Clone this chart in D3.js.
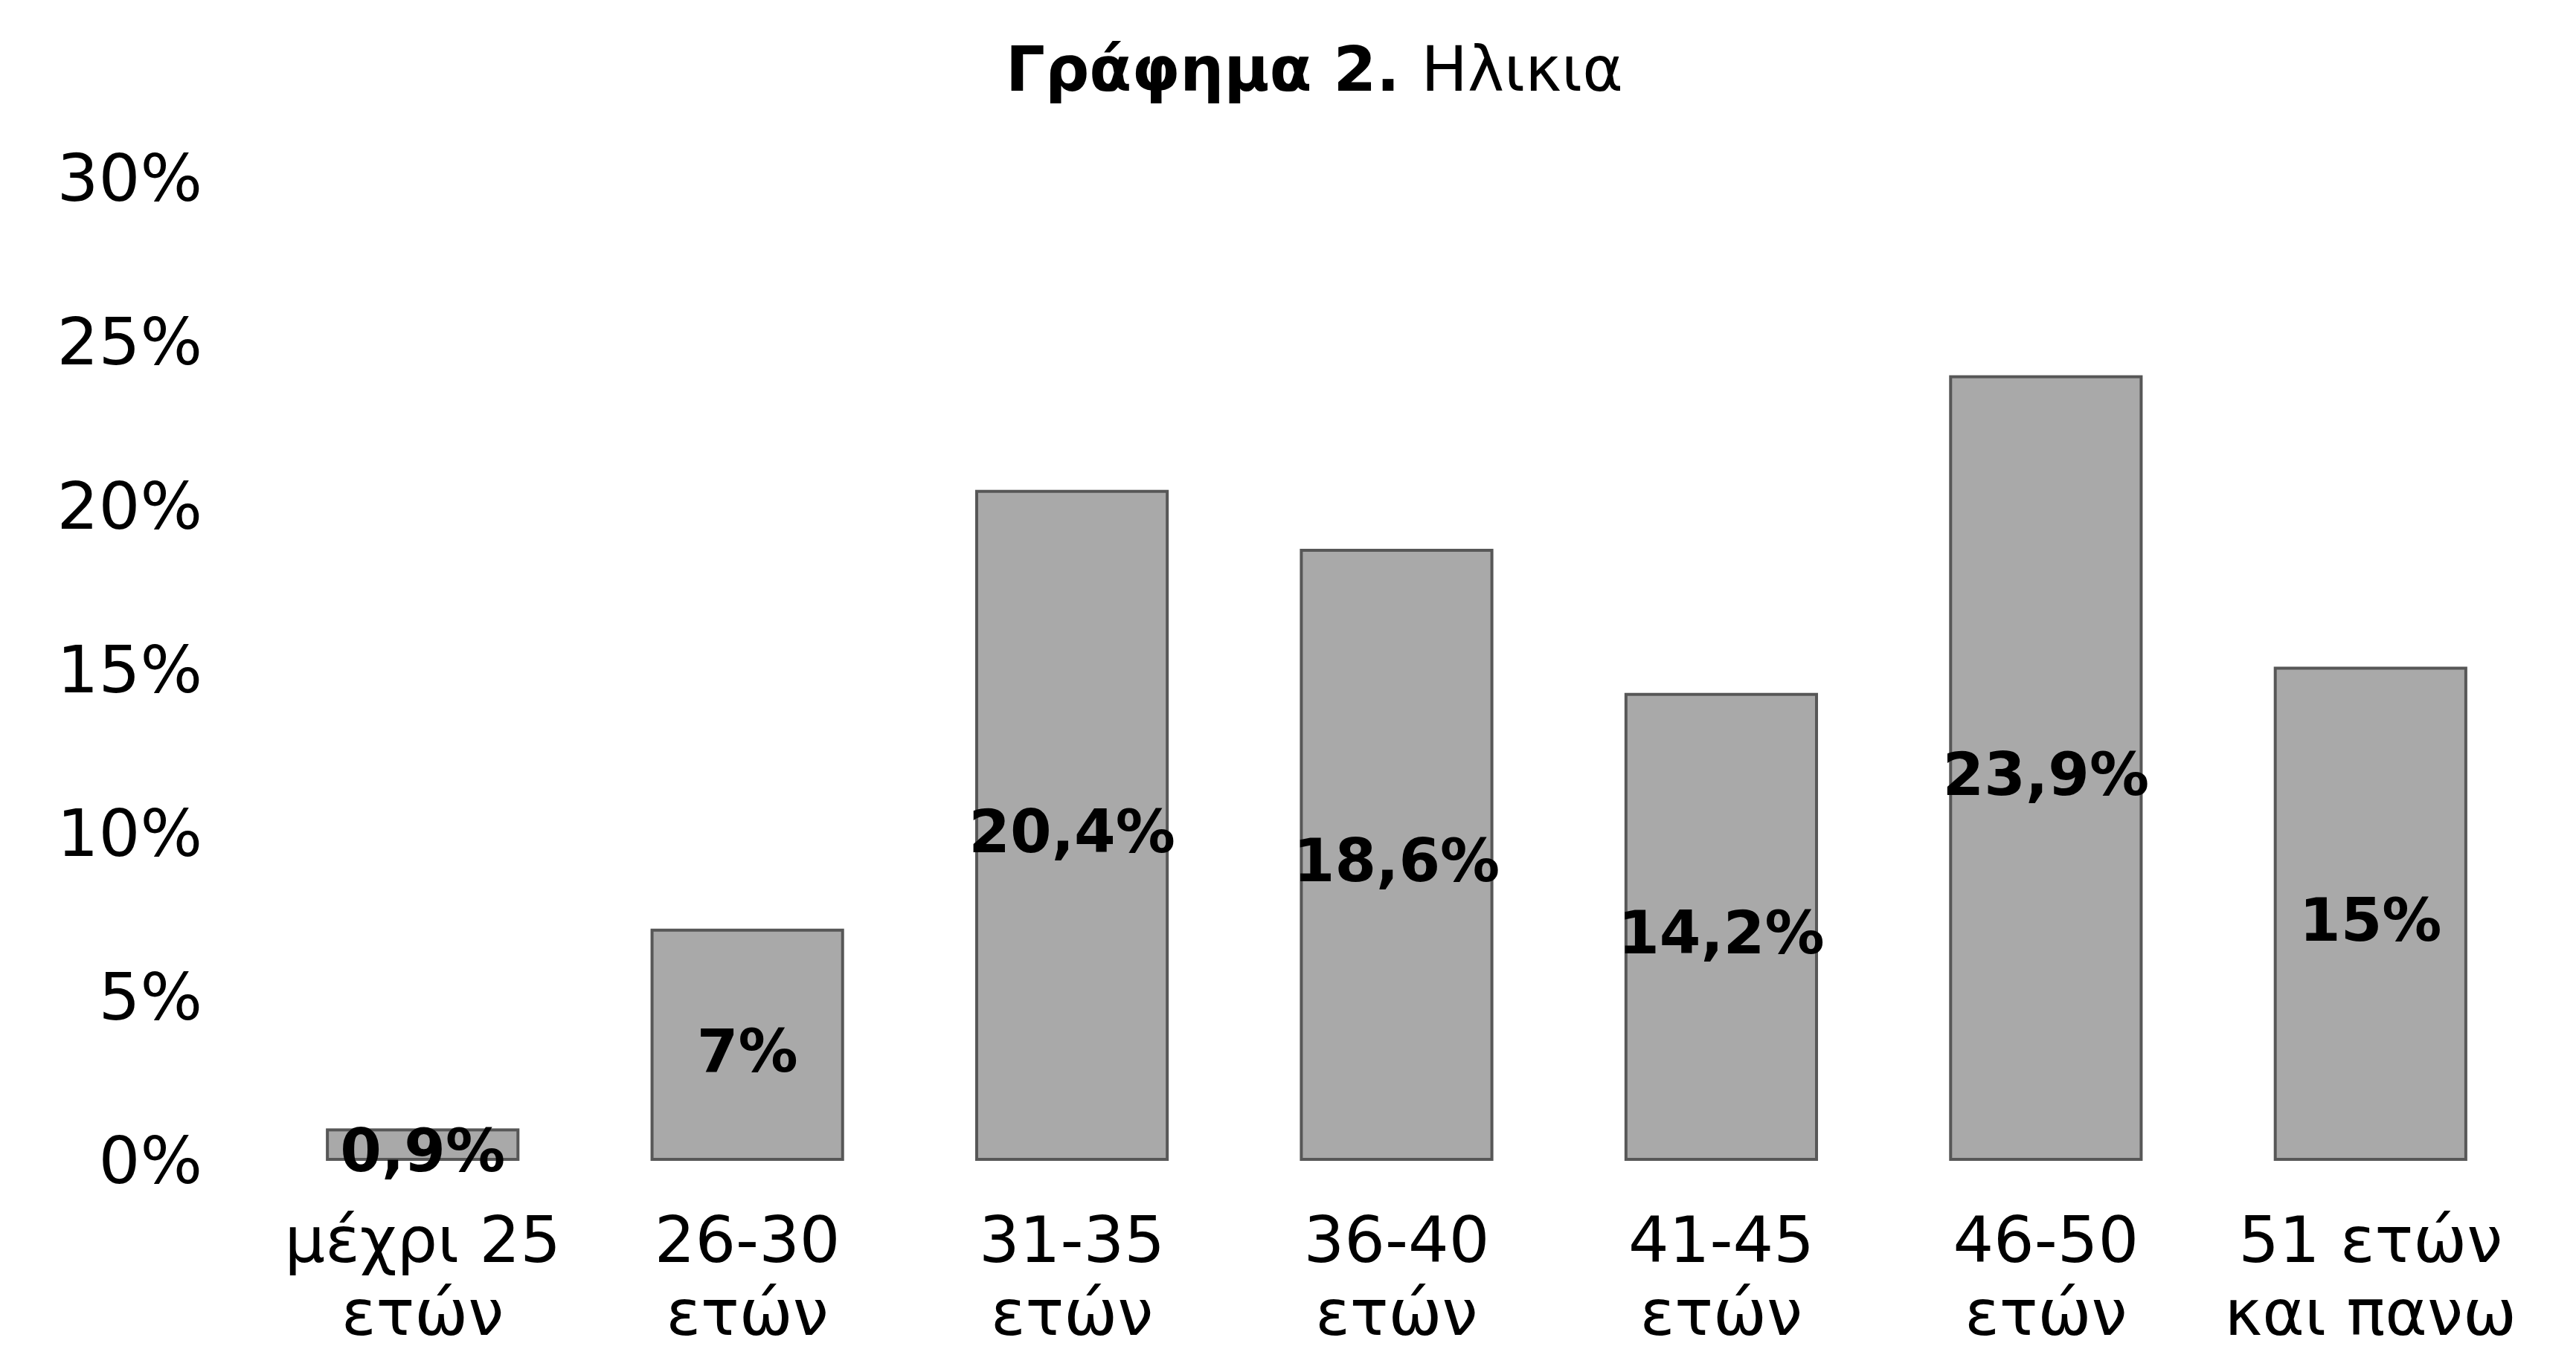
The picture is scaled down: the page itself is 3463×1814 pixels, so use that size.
<!DOCTYPE html>
<html>
<head>
<meta charset="utf-8">
<script src="https://cdn.jsdelivr.net/npm/d3@7/dist/d3.min.js"></script>
<style>
  html, body { margin: 0; padding: 0; background: #fff; }
  svg { display: block; }
  text { font-family: "DejaVu Sans", "Liberation Sans", Arial, sans-serif; fill: #000; }
</style>
</head>
<body>
<svg id="chart" width="3463" height="1814"></svg>
<script>
// Age groups (two-line labels) and their shares in percent
const categories = [
  ["μέχρι 25", "ετών"],
  ["26-30", "ετών"],
  ["31-35", "ετών"],
  ["36-40", "ετών"],
  ["41-45", "ετών"],
  ["46-50", "ετών"],
  ["51 ετών", "και πανω"]
];
const values = [0.9, 7, 20.4, 18.6, 14.2, 23.9, 15];
const valueLabels = ["0,9%", "7%", "20,4%", "18,6%", "14,2%", "23,9%", "15%"];
const yTicks = [0, 5, 10, 15, 20, 25, 30];

const svg = d3.select("#chart");

const x = d3.scaleBand()
  .domain(categories.map((d, i) => i))
  .range([350, 3405])
  .paddingInner(0.413)
  .paddingOuter(0.2065);

const y = d3.scaleLinear().domain([0, 30]).range([1559, 238]);

// Title: bold prefix, regular subject
const title = svg.append("text")
  .attr("x", 1767)
  .attr("y", 122)
  .attr("text-anchor", "middle")
  .style("font-size", "83px");
title.append("tspan").style("font-weight", "bold").text("Γράφημα 2. ");
title.append("tspan").text("Ηλικια");

// Y axis: labels only, no line or tick marks
const yAxis = d3.axisLeft(y)
  .tickValues(yTicks)
  .tickFormat(d => d + "%")
  .tickSize(0)
  .tickPadding(0);
const yg = svg.append("g").attr("transform", "translate(272,0)").call(yAxis);
yg.select(".domain").remove();
yg.selectAll("text")
  .style("font-family", "'DejaVu Sans', sans-serif")
  .style("font-size", "88px")
  .attr("fill", "#111")
  .attr("dy", "0.36em");

// Bars
svg.append("g").selectAll("rect")
  .data(values)
  .join("rect")
  .attr("x", (d, i) => x(i))
  .attr("y", d => y(d))
  .attr("width", x.bandwidth())
  .attr("height", d => y(0) - y(d))
  .attr("fill", "#a9a9a9")
  .attr("stroke", "#575757")
  .attr("stroke-width", 4);

// Value labels centred in each bar
svg.append("g").selectAll("text")
  .data(values)
  .join("text")
  .attr("x", (d, i) => x(i) + x.bandwidth() / 2)
  .attr("y", d => y(d / 2))
  .attr("dy", "0.45em")
  .attr("text-anchor", "middle")
  .style("font-weight", "bold")
  .style("font-size", "80px")
  .text((d, i) => valueLabels[i]);

// Category labels, two lines each
const cat = svg.append("g").selectAll("text")
  .data(categories)
  .join("text")
  .attr("text-anchor", "middle")
  .style("font-size", "86px")
  .attr("fill", "#111");
cat.append("tspan")
  .attr("x", (d, i) => x(i) + x.bandwidth() / 2)
  .attr("y", 1697)
  .text(d => d[0]);
cat.append("tspan")
  .attr("x", (d, i) => x(i) + x.bandwidth() / 2)
  .attr("y", 1795)
  .text(d => d[1]);
</script>
</body>
</html>
